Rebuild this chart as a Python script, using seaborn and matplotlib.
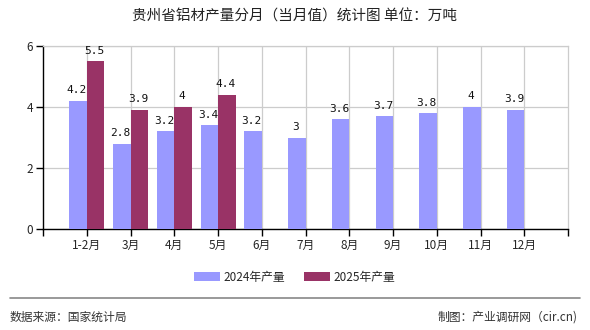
import matplotlib
matplotlib.use("Agg")
import matplotlib.pyplot as plt
import seaborn as sns
import pandas as pd
import numpy as np
from matplotlib.patches import Patch

months = ["1-2月", "3月", "4月", "5月", "6月", "7月", "8月", "9月", "10月", "11月", "12月"]
values_2024 = [4.2, 2.8, 3.2, 3.4, 3.2, 3.0, 3.6, 3.7, 3.8, 4.0, 3.9]
months_2025 = ["1-2月", "3月", "4月", "5月"]
values_2025 = [5.5, 3.9, 4.0, 4.4]
series_names = ["2024年产量", "2025年产量"]
colors = ["#9999ff", "#993366"]
yticks = [0, 2, 4, 6]

rows = [(m, v, series_names[0]) for m, v in zip(months, values_2024)]
rows += [(m, v, series_names[1]) for m, v in zip(months_2025, values_2025)]
df = pd.DataFrame(rows, columns=["month", "value", "series"])

sns.set_theme(style="white")
plt.rcParams['font.family'] = ['Noto Sans CJK SC', 'DejaVu Sans']

fig = plt.figure(figsize=(5.9, 3.3), dpi=100)
ax = fig.add_axes([43/590, 1-229/330, (568-43)/590, (229-46)/330])

sns.barplot(data=df, x="month", y="value", hue="series", order=months,
            hue_order=series_names, palette=colors, width=0.8, dodge=True,
            saturation=1, errorbar=None, ax=ax, legend=False, zorder=3,
            linewidth=0, edgecolor="none")

for container in ax.containers:
    for bar in container:
        h = bar.get_height()
        if np.isnan(h):
            continue
        label = f"{h:g}"
        ax.annotate(label, (bar.get_x() + bar.get_width()/2, h),
                    xytext=(-1, 4), textcoords="offset points",
                    ha="center", va="bottom", fontsize=8,
                    family=['DejaVu Sans Mono'], color="#111111")

ax.set_xlim(-1, 11)
ax.set_ylim(0, 6)
ax.set_yticks(yticks)
ax.set_xlabel("")
ax.set_ylabel("")

ax.set_xticks(range(len(months)))
ax.set_xticklabels(months)
ax.set_xticks([-1, 11], minor=True)

ax.set_axisbelow(True)
ax.xaxis.grid(True, which="major", color="#cccccc", linewidth=0.9)
ax.yaxis.grid(True, color="#cccccc", linewidth=0.9)

for s in ["top", "right"]:
    ax.spines[s].set_color("#cccccc")
    ax.spines[s].set_linewidth(0.9)
for s in ["left", "bottom"]:
    ax.spines[s].set_color("black")
    ax.spines[s].set_linewidth(1.0)

ax.tick_params(axis="x", which="both", direction="out", length=5, width=1,
               color="black", bottom=True, labelsize=8.5, pad=2)
ax.tick_params(axis="y", direction="out", length=5, width=1, color="black",
               left=True, labelsize=8.5, pad=2)

fig.text(0.5, 1-17/330, "贵州省铝材产量分月（当月值）统计图 单位：万吨",
         ha="center", va="center", fontsize=10.5, color="#222222")

handles = [Patch(facecolor=c, edgecolor="none") for c in colors]
fig.legend(handles, series_names, loc="center", bbox_to_anchor=(0.5, 1-277/330),
           ncol=2, frameon=False, fontsize=8.5, handlelength=2.2, handleheight=0.8,
           columnspacing=1.6, handletextpad=0.3)

fig.add_artist(plt.Line2D([10/590, 580/590], [1-298/330, 1-298/330],
                          color="#888888", linewidth=1.2, transform=fig.transFigure))
fig.text(10/590, 1-317/330, "数据来源：国家统计局", ha="left", va="center",
         fontsize=8.5, color="#333333")
fig.text(578/590, 1-317/330, "制图：产业调研网（cir.cn)", ha="right", va="center",
         fontsize=8.5, color="#333333")

fig.savefig("out.png", dpi=100)
